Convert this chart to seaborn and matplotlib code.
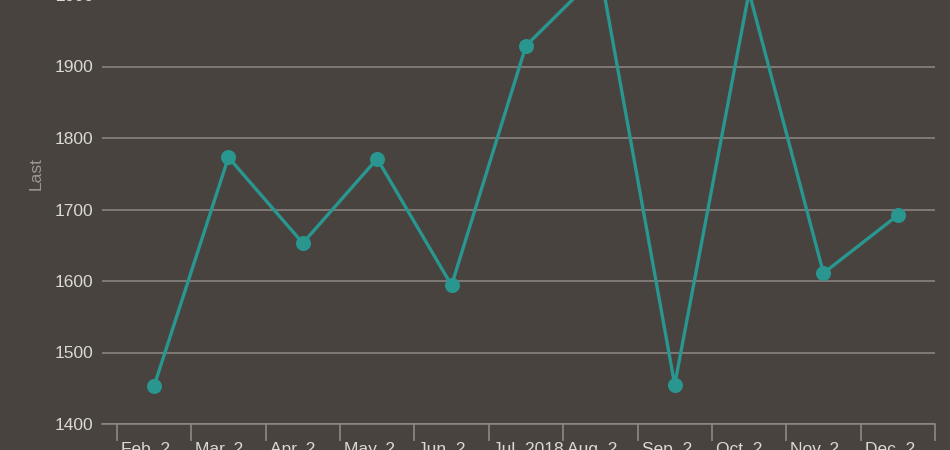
import matplotlib
matplotlib.use("Agg")
import matplotlib.pyplot as plt
import seaborn as sns

# valores
meses = ["Feb. 2", "Mar. 2", "Apr. 2", "May. 2", "Jun. 2", "Jul. 2018",
         "Aug. 2", "Sep. 2", "Oct. 2", "Nov. 2", "Dec. 2"]
last = [1453, 1773, 1653, 1771, 1594, 1929, 2032, 1455, 2004, 1611, 1692]
y_ticks = [1400, 1500, 1600, 1700, 1800, 1900, 2000]

fundo = "#48433f"
texto = "#dcd8d3"
grade = "#8e8984"
teal = "#299690"

sns.set_theme(style="dark")
plt.rcParams["font.family"] = ["Liberation Sans", "DejaVu Sans"]

fig = plt.figure(figsize=(9.5, 4.5), dpi=100, facecolor=fundo)
# eixo vai além da figura (imagem original recortada)
ax = fig.add_axes([102 / 950, 26 / 450, 833 / 950, 500.5 / 450])
ax.set_facecolor(fundo)

sns.pointplot(x=meses, y=last, color=teal, markers="o", linewidth=2.4,
              markersize=9, ax=ax)

ax.set_xlim(-0.70, 10.5)
ax.set_ylim(1400, 2100)

# ticks nas fronteiras de cada mês
bordas = [i - 0.5 for i in range(len(meses) + 1)]
ax.set_xticks(bordas)
ax.set_xticklabels(meses + [""], ha="left", color=texto, fontsize=12.5)
ax.tick_params(axis="x", length=12, width=1.2, color=grade, pad=1, bottom=True)
desloc = matplotlib.transforms.ScaledTranslation(4 / 100, 0, fig.dpi_scale_trans)
for lbl in ax.get_xticklabels():
    lbl.set_transform(lbl.get_transform() + desloc)

ax.set_yticks(y_ticks)
ax.set_yticklabels([str(v) for v in y_ticks], color=texto, fontsize=12.5)
ax.tick_params(axis="y", length=0, pad=6)
ax.yaxis.grid(True, color=grade, linewidth=1.1)
ax.xaxis.grid(False)
ax.set_axisbelow(True)

ax.set_xlabel("")
ax.set_ylabel("Last", color="#9c968f", fontsize=12.5, labelpad=8)

for s in ["top", "right", "left"]:
    ax.spines[s].set_visible(False)
ax.spines["bottom"].set_color(grade)
ax.spines["bottom"].set_linewidth(1.1)

fig.savefig("out.png", dpi=100, facecolor=fundo)
